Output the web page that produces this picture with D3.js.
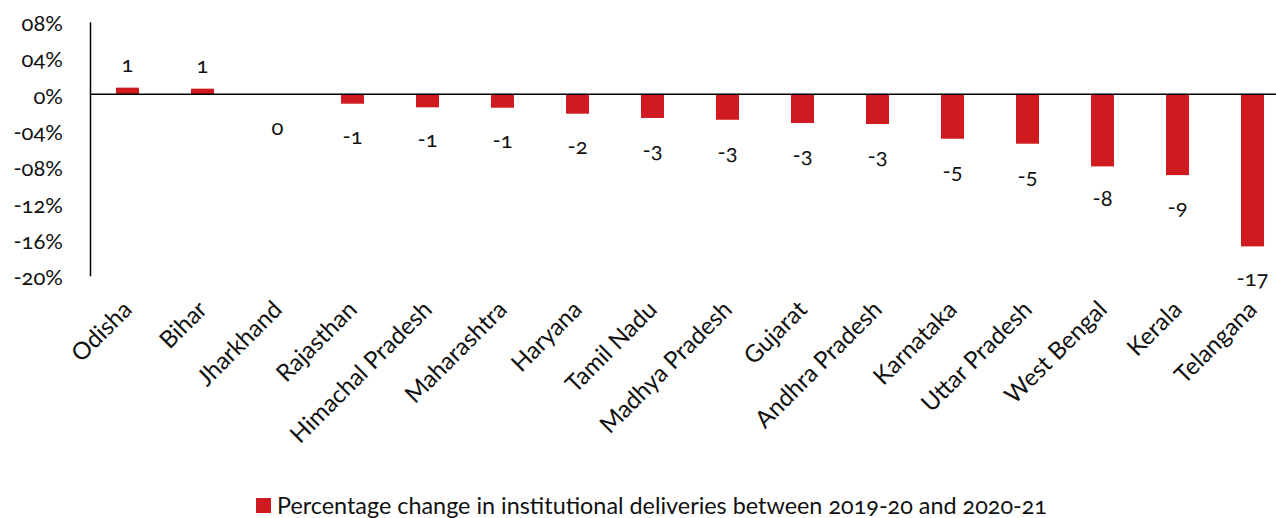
<!DOCTYPE html>
<html>
<head>
<meta charset="utf-8">
<script src="https://cdn.jsdelivr.net/npm/d3@7"></script>
<style>
  html, body { margin: 0; padding: 0; background: #fff; }
  svg text { font-family: Lato, "Open Sans", sans-serif; fill: #111; }
  .num { font-variant-numeric: oldstyle-nums; }
</style>
</head>
<body>
<svg id="chart" width="1276" height="518"></svg>
<script>
// states, ordered as in the chart
const states = ['Odisha', 'Bihar', 'Jharkhand', 'Rajasthan', 'Himachal Pradesh', 'Maharashtra',
  'Haryana', 'Tamil Nadu', 'Madhya Pradesh', 'Gujarat', 'Andhra Pradesh', 'Karnataka',
  'Uttar Pradesh', 'West Bengal', 'Kerala', 'Telangana'];

// % change in institutional deliveries, 2019-20 -> 2020-21
const changes = [0.74, 0.63, -0.05, -1.03, -1.43, -1.47, -2.13, -2.6, -2.8, -3.16, -3.27, -4.89,
  -5.44, -7.94, -8.9, -16.76];

const yTicks = [8, 4, 0, -4, -8, -12, -16, -20];
const yTickLabels = ['08%', '04%', '0%', '-04%', '-08%', '-12%', '-16%', '-20%'];

const legendLabel = 'Percentage change in institutional deliveries between 2019-20 and 2020-21';

const barColor = '#cf1a20';

const svg = d3.select('#chart');

const x = d3.scaleBand()
    .domain(states)
    .range([90, 1290])
    .paddingInner(0.693)
    .paddingOuter(0.3465);

const y = d3.scaleLinear()
    .domain([-20, 8])
    .range([275.8, 21.8]);

const data = states.map((s, i) => ({ state: s, value: changes[i] }));

// y axis: plain line + labels, no tick marks
const yAxis = d3.axisLeft(y)
    .tickValues(yTicks)
    .tickSize(0)
    .tickPadding(27)
    .tickFormat((d, i) => yTickLabels[i]);

const gy = svg.append('g')
    .attr('transform', 'translate(90,0)')
    .call(yAxis);
gy.select('.domain').attr('stroke', '#000').attr('stroke-width', 1.5);
gy.selectAll('text')
    .attr('class', 'num')
    .attr('font-size', 22)
    .attr('dy', '0.4em')
    .style('fill', '#111');

// bars
svg.append('g')
  .selectAll('rect')
  .data(data)
  .join('rect')
    .attr('x', d => x(d.state))
    .attr('width', x.bandwidth())
    .attr('y', d => y(Math.max(0, d.value)))
    .attr('height', d => Math.abs(y(d.value) - y(0)))
    .attr('fill', barColor);

// zero line
svg.append('line')
    .attr('x1', 90)
    .attr('x2', 1276)
    .attr('y1', y(0))
    .attr('y2', y(0))
    .attr('stroke', '#000')
    .attr('stroke-width', 1.5);

// value labels
svg.append('g')
  .selectAll('text')
  .data(data)
  .join('text')
    .attr('class', 'num')
    .attr('x', d => x(d.state) + x.bandwidth() / 2)
    .attr('y', d => d.value >= 0 ? y(d.value) - 16 : y(d.value) + 40)
    .attr('text-anchor', 'middle')
    .attr('font-size', 22)
    .text(d => String(Math.round(d.value)).replace('-0', '0'));

// category labels, rotated
svg.append('g')
  .selectAll('text')
  .data(data)
  .join('text')
    .attr('text-anchor', 'end')
    .attr('font-size', 24)
    .attr('transform', d => `translate(${x(d.state) + x.bandwidth() / 2 + 6},311) rotate(-45)`)
    .text(d => d.state);

// legend
const legend = svg.append('g');
legend.append('rect')
    .attr('x', 256)
    .attr('y', 498)
    .attr('width', 15)
    .attr('height', 15)
    .attr('fill', barColor);
legend.append('text')
    .attr('class', 'num')
    .attr('x', 277)
    .attr('y', 514)
    .attr('font-size', 23)
    .attr('textLength', 770)
    .attr('lengthAdjust', 'spacingAndGlyphs')
    .text(legendLabel);
</script>
</body>
</html>
